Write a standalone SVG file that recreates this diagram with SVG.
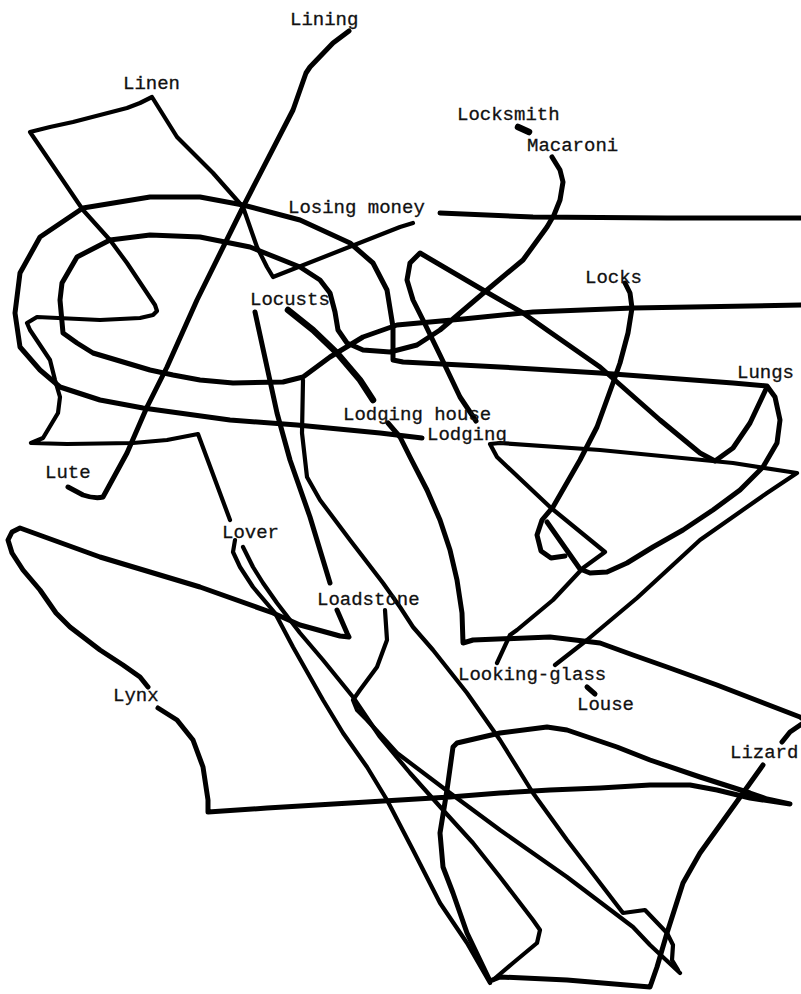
<svg xmlns="http://www.w3.org/2000/svg" width="801" height="994" viewBox="0 0 801 994">
<style>
.ln{fill:none;stroke:#000;stroke-width:5;stroke-linecap:round;stroke-linejoin:round}
.th{stroke-width:4.2}
.tk{stroke-width:6.5}
.lb{font-family:"Liberation Mono","Courier New",monospace;font-size:19px;fill:#111;stroke:#111;stroke-width:0.3}
</style>
<rect width="801" height="994" fill="#fff"/>
<g id="connectors">
<path class="ln" d="M349,31 L333,43 L310,67 L306,73 L293,110 L243,207 L197,300 L167,367 L147,407 L127,453 L103,497 Q95,499 83,495 L68,487"/>
<path class="ln th" d="M413,223 L400,227 L273,277 L267,267 L257,247 L243,207 L213,173 L177,137 L152,97 L140,103 L127,108 L100,115 L73,122 L50,127 L30,132 L83,210 L110,240 L127,263 L147,293 L155,305 L157,311 L153,315 L140,318 L100,320 L37,317 L27,323 L30,330 L50,360 L55,380 L60,397 L58,413 L43,438 L31,443 L67,444 L133,443 L167,440 L198,434 L230,520"/>
<path class="ln" d="M422,438 L380,433 L297,425 L230,420 L143,408 L100,400 L60,387 L40,370 L20,347 L15,313 L20,273 L40,237 L83,208 L150,197 L200,197 L243,205 L300,220 L350,243 L373,263 L387,290 L393,327 L393,360 L403,362 L500,367 L600,373 L733,383 L767,386 L775,397 L780,420 L777,443 L763,467 L740,490 L713,510 L683,530 L653,547 L627,563 L607,572 L590,573 L580,569 L547,522"/>
<path class="ln" d="M552,157 L560,170 L563,182 L560,200 L554,215 L547,227 L523,260 L487,290 L460,313 L440,330 L417,345 L390,352 L363,350 L347,343 L338,330 L335,312 L330,293 L320,280 L300,267 L250,247 L200,237 L150,235 L110,240 L77,257 L62,283 L60,300 L63,333 L77,343 L93,353 L150,370 L173,375 L200,380 L233,383 L283,382 L303,377 L330,357 L363,337 L397,325 L463,319 L533,312 L633,308 L801,305"/>
<path class="ln" d="M625,283 L630,293 L632,308 L628,333 L620,363 L613,383 L597,427 L580,460 L553,507 L542,520 L537,535 L541,551 L551,558 L565,556"/>
<path class="ln" d="M476,421 L460,397 L440,355 L423,320 L413,300 L407,280 L410,263 L420,253 L483,290 L523,313 L547,330 L600,367 L660,420 L700,453 L715,461 L733,448 L750,423 L767,387"/>
<path class="ln th" d="M555,665 L587,640 L637,598 L700,540 L767,493 L797,473 L733,463 L600,450 L500,443 L490,444 L497,457 L550,507 L605,552 L583,568 L553,600 L517,630 L510,635 L497,663"/>
<path class="ln tk" d="M288,310 L313,330 L337,353 L360,380 L373,400"/>
<path class="ln" d="M388,423 L400,437 L410,457 L427,490 L440,520 L450,550 L457,580 L462,613 L463,643 L473,640 L550,637 L600,643 L633,655 L667,667 L717,685 L800,717 L806,721 L790,732 L782,742"/>
<path class="ln" d="M255,312 L267,367 L277,413 L290,460 L310,517 L330,583"/>
<path class="ln" d="M337,610 L347,633 L349,637 L340,636 L300,625 L273,613 L200,587 L100,557 L20,528 L12,532 L8,540 L12,553 L23,570 L40,590 L56,613 L70,627 L100,650 L123,665 L140,677 L148,687"/>
<path class="ln" d="M158,708 L177,720 L193,740 L203,767 L208,800 L208,812 L267,808 L400,800 L450,797 L500,793 L550,790 L600,788 L650,785 L690,785 L717,790 L750,798 L790,804 L767,799 L750,793 L700,777 L650,760 L617,747 L567,730 L547,727 L500,733 L457,743 L453,747 L447,790 L440,833 L443,867 L453,893 L467,933 L490,981 L500,977 L567,980 L650,987 L657,967 L667,933 L683,883 L700,853 L733,807 L763,765"/>
<path class="ln th" d="M235,540 L233,552 L240,567 L253,587 L275,613 L293,647 L323,700 L343,733 L367,767 L387,800 L413,850 L440,903 L467,943 L490,983"/>
<path class="ln th" d="M243,547 L253,567 L263,583 L277,603 L300,633 L323,660 L353,697 L380,737 L410,773 L443,810 L473,843 L500,877 L533,920 L540,930 L537,943 L513,963 L493,980"/>
<path class="ln th" d="M385,610 L387,640 L377,667 L360,690 L353,700 L357,710 L367,720 L397,753 L450,793 L500,830 L567,877 L633,927 L650,945 L680,973"/>
<path class="ln th" d="M303,380 L302,433 L307,477 L320,500 L350,540 L383,583 L400,607 L413,627 L433,650 L467,693 L500,740 L533,793 L567,840 L600,883 L623,913 L645,910 L667,933 L673,945 L672,960 L678,970"/>
<path class="ln" d="M440,213 L533,217 L667,218 L801,218"/>
<path class="ln tk" d="M518,127 L529,132"/>
<path class="ln" d="M587,687 L595,694"/>
</g>
<g id="lining"><text class="lb" x="290" y="25">Lining</text></g>
<g id="linen"><text class="lb" x="123" y="89">Linen</text></g>
<g id="locksmith"><text class="lb" x="457" y="120">Locksmith</text></g>
<g id="macaroni"><text class="lb" x="527" y="151">Macaroni</text></g>
<g id="losing-money"><text class="lb" x="288" y="213">Losing money</text></g>
<g id="locusts"><text class="lb" x="250" y="305">Locusts</text></g>
<g id="locks"><text class="lb" x="585" y="283">Locks</text></g>
<g id="lungs"><text class="lb" x="737" y="378">Lungs</text></g>
<g id="lodging-house"><text class="lb" x="343" y="420">Lodging house</text></g>
<g id="lodging"><text class="lb" x="427" y="440">Lodging</text></g>
<g id="lute"><text class="lb" x="45" y="478">Lute</text></g>
<g id="lover"><text class="lb" x="222" y="538">Lover</text></g>
<g id="loadstone"><text class="lb" x="317" y="605">Loadstone</text></g>
<g id="looking-glass"><text class="lb" x="458" y="680">Looking-glass</text></g>
<g id="louse"><text class="lb" x="577" y="710">Louse</text></g>
<g id="lynx"><text class="lb" x="113" y="701">Lynx</text></g>
<g id="lizard"><text class="lb" x="730" y="758">Lizard</text></g>
</svg>
